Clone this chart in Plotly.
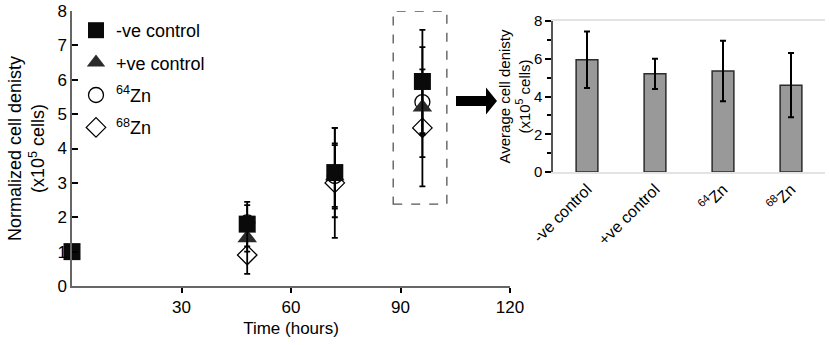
import plotly.graph_objects as go

# ---- data ----
series_names = ["-ve control", "+ve control", "<sup>64</sup>Zn", "<sup>68</sup>Zn"]
time_neg = [0, 48, 72, 96]
val_neg = [1.0, 1.8, 3.3, 5.95]
err_neg = [0.0, 0.65, 1.3, 1.5]
time_pos = [48, 72, 96]
val_pos = [1.4, 3.2, 5.2]
err_pos = [0.4, 0.9, 0.8]
time_64 = [48, 72, 96]
val_64 = [1.85, 3.2, 5.35]
err_64 = [0.5, 0.95, 1.6]
time_68 = [48, 72, 96]
val_68 = [0.9, 3.0, 4.6]
err_68 = [0.55, 1.6, 1.7]

bar_labels = ["-ve control", "+ve control", "<sup>64</sup>Zn", "<sup>68</sup>Zn"]
bar_values = [5.95, 5.2, 5.35, 4.6]
bar_errors = [1.5, 0.8, 1.6, 1.7]

x_ticks = [30, 60, 90, 120]
y_ticks = [0, 1, 2, 3, 4, 5, 6, 7, 8]

FONT = "Arial, Liberation Sans, sans-serif"
W, H = 829, 345


def px(x):
    return x / W


def py(y):
    return (H - y) / H


fig = go.Figure()


def eb(err):
    return dict(type="data", array=err, color="black", thickness=1.8, width=3)


fig.add_trace(go.Scatter(x=time_68, y=val_68, mode="markers", name=series_names[3],
                         legendgroup="d", legendrank=4,
                         marker=dict(symbol="diamond-open", size=15, color="black", line=dict(width=1.3)),
                         error_y=eb(err_68), cliponaxis=False))
fig.add_trace(go.Scatter(x=time_64, y=val_64, mode="markers", name=series_names[2],
                         legendgroup="c", legendrank=3,
                         marker=dict(symbol="circle-open", size=15, color="black", line=dict(width=1.3)),
                         error_y=eb(err_64), cliponaxis=False))
fig.add_trace(go.Scatter(x=time_pos, y=val_pos, mode="markers", name=series_names[1],
                         legendgroup="b", legendrank=2,
                         marker=dict(symbol="triangle-up", size=17, color="#2a2a2a"),
                         error_y=eb(err_pos), cliponaxis=False))
fig.add_trace(go.Scatter(x=time_neg, y=val_neg, mode="markers", name=series_names[0],
                         legendgroup="a", legendrank=1,
                         marker=dict(symbol="square", size=17, color="#0a0a0a"),
                         error_y=eb(err_neg), cliponaxis=False))

fig.add_trace(go.Bar(x=bar_labels, y=bar_values, xaxis="x2", yaxis="y2", width=0.32,
                     marker=dict(color="#999999", line=dict(color="#2b2b2b", width=1.5)),
                     error_y=dict(type="data", array=bar_errors, color="black", thickness=2, width=3),
                     showlegend=False))

axis_common = dict(showgrid=False, zeroline=False, showline=True, linecolor="#666666", linewidth=1.5,
                   tickcolor="black", tickwidth=1.5, ticklabeloverflow="allow",
                   tickfont=dict(size=17, color="black", family=FONT))

left_dom_x = [px(72), px(510)]
left_dom_y = [py(286), py(11)]
right_dom_x = [px(553), px(825)]
right_dom_y = [py(172), py(21)]

fig.update_layout(
    width=W, height=H, margin=dict(l=0, r=0, t=0, b=0),
    paper_bgcolor="white", plot_bgcolor="white",
    font=dict(family=FONT, color="black"),
    xaxis=dict(domain=left_dom_x, range=[0, 120], tickvals=x_ticks, ticks="outside", ticklen=5,
               title=dict(text="Time (hours)", font=dict(size=17), standoff=6), automargin=False,
               anchor="y", **axis_common),
    xaxis3=dict(domain=left_dom_x, range=[0, 120], tickvals=[0] + x_ticks, ticks="inside", ticklen=5,
                showticklabels=False, overlaying="x", anchor="y", showline=False, showgrid=False,
                zeroline=False, tickcolor="black", tickwidth=1.5),
    yaxis=dict(domain=left_dom_y, range=[0, 8], tickvals=y_ticks, ticks="inside", ticklen=6,
               title=dict(text="Normalized cell denisty<br>(x10<sup>5</sup> cells)", font=dict(size=18), standoff=8),
               automargin=False, anchor="x", **axis_common),
    xaxis2=dict(domain=right_dom_x, anchor="y2", showline=True, mirror=True, linecolor="#e3e3e3", linewidth=1.5,
                showgrid=False, zeroline=False, ticks="", tickangle=-45, ticklabeloverflow="allow",
                tickfont=dict(size=16, color="black", family=FONT), automargin=False),
    yaxis2=dict(domain=right_dom_y, anchor="x2", range=[0, 8], tickvals=[0, 2, 4, 6, 8], ticks="outside",
                ticklen=6, tickcolor="black", tickwidth=1.5, showline=True, linecolor="#555555", linewidth=1.5,
                showgrid=False, zeroline=False, ticklabeloverflow="allow",
                minor=dict(ticks="outside", dtick=1, ticklen=4, tickcolor="black", tickwidth=1.5),
                tickfont=dict(size=15, color="black", family=FONT),
                title=dict(text="Average cell denisty<br>(x10<sup>5</sup> cells)", font=dict(size=15), standoff=0),
                automargin=False),
    legend=dict(x=px(76), y=py(12), xanchor="left", yanchor="top", bgcolor="rgba(0,0,0,0)",
                font=dict(size=18, family=FONT, color="black"), traceorder="grouped",
                tracegroupgap=6, itemwidth=30),
    bargap=0.68,
)

# dashed box around the 96 h points
fig.add_shape(type="rect", xref="x", yref="y", x0=88, x1=102.7, y0=2.38, y1=8.0,
              line=dict(color="#555555", width=1.3, dash="dash"), fillcolor="rgba(0,0,0,0)")

# block arrow
ax0, ax1, axh = px(456), px(486), px(497)
yc = py(101)
sh = 5 / H
hh = 13.5 / H
path = (f"M {ax0},{yc - sh} L {ax1},{yc - sh} L {ax1},{yc - hh} L {axh},{yc} "
        f"L {ax1},{yc + hh} L {ax1},{yc + sh} L {ax0},{yc + sh} Z")
fig.add_shape(type="path", xref="paper", yref="paper", path=path, fillcolor="black", line=dict(width=0))

fig.write_html("out.html", config={"displayModeBar": False},
               post_script="document.body.style.margin='0';document.body.style.overflow='hidden';")
